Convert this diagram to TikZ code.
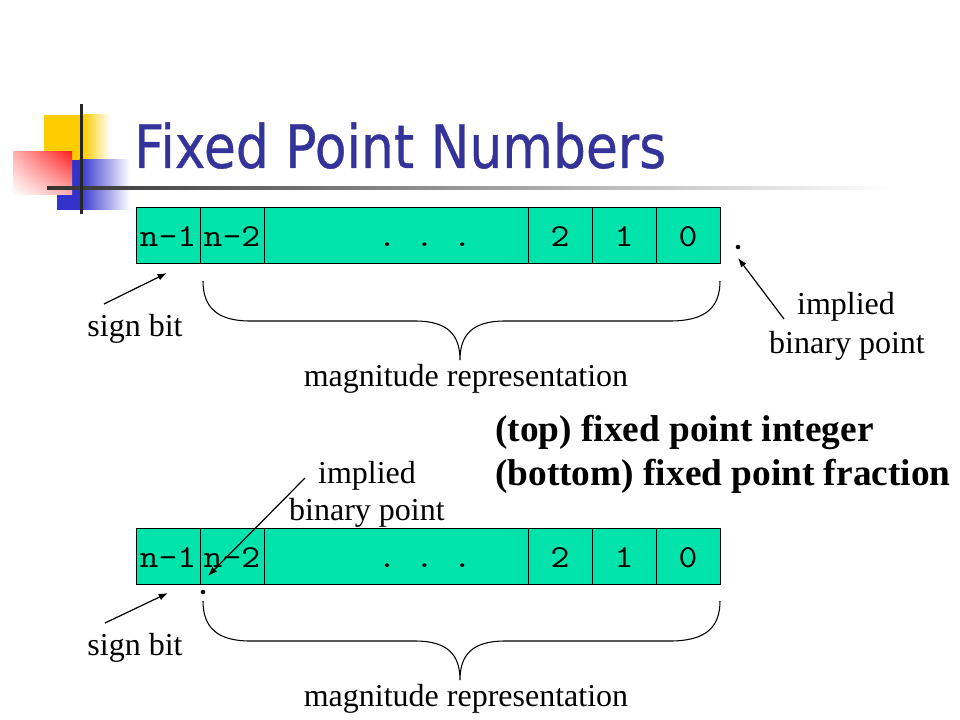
\documentclass[tikz,border=0pt]{standalone}
\usepackage{fontspec}
\usepackage{graphicx}
\setmainfont{Liberation Serif}
\setmonofont[FakeStretch=1.143]{Latin Modern Mono}
\newfontfamily\titlefont[FakeBold=0.6]{DejaVu Sans}
\usetikzlibrary{arrows.meta,shadings}
\definecolor{cellgreen}{RGB}{0,227,170}
\definecolor{titleblue}{RGB}{51,51,153}
\definecolor{logoyellow}{RGB}{255,204,0}
\definecolor{logoblue}{RGB}{51,51,204}
\definecolor{logored}{RGB}{255,32,32}
\begin{document}
\begin{tikzpicture}[x=0.75pt,y=-0.75pt,
  cell/.style={draw=black,line width=0.75pt,fill=cellgreen,inner sep=0pt,outer sep=0pt,
    minimum height=42pt,minimum width=48pt,font=\fontsize{24}{28}\ttfamily,text height=18pt,text depth=1.5pt},
  lbl/.style={font=\fontsize{24}{28}\selectfont,inner sep=0pt,anchor=base},
  note/.style={font=\fontsize{28}{32}\selectfont\bfseries,inner sep=0pt,anchor=base west},
  ptr/.style={draw=black,line width=0.9pt,-{Latex[length=7pt,width=5pt]}},
  brace/.style={draw=black,line width=0.8pt},
  bpt/.style={circle,fill=black,inner sep=0pt,minimum size=3.4pt}]

\useasboundingbox (0,0) rectangle (960,720);

% logo
\fill[logoyellow] (44,115) rectangle (84,160);
\shade[left color=logoyellow,right color=white] (83.5,115) rectangle (110,160);
\fill[logoblue] (57,160) rectangle (80,210);
\shade[left color=logoblue,right color=white] (79.5,160) rectangle (130,210);
\shade[upper left=logored!35,upper right=logored,lower left=white,lower right=logored!35] (13,152) rectangle (72,195);
\shade[left color=black!80,right color=white] (47,186.5) rectangle (890,189.5);
\fill[black!85] (79.5,104) rectangle (82.5,214);

% title
\node[anchor=base west,inner sep=0pt,text=titleblue] (title) at (134,168)
  {\resizebox{399pt}{\height}{\titlefont\fontsize{45}{50}\selectfont Fixed Point Numbers}};

% top register
\node[cell] (a1) at (168,236) {n-1};
\node[cell] (a2) at (232,236) {n-2};
\node[cell,minimum width=198pt] (a3) at (396,236) {\hspace*{43pt}. . .};
\node[cell] (a4) at (560,236) {2};
\node[cell] (a5) at (624,236) {1};
\node[cell] (a6) at (688,236) {0};

% bottom register
\node[cell] (b1) at (168,556) {n-1};
\node[cell] (b2) at (232,556) {n-2};
\node[cell,minimum width=198pt] (b3) at (396,556) {\hspace*{43pt}. . .};
\node[cell] (b4) at (560,556) {2};
\node[cell] (b5) at (624,556) {1};
\node[cell] (b6) at (688,556) {0};

% binary points
\node[bpt] (dotA) at (738,247) {};
\node[bpt] (dotB) at (203,592) {};

% labels
\node[lbl] (signA) at (135,336) {sign bit};
\node[lbl] (magA) at (466,386) {magnitude representation};
\node[lbl] (impA) at (846,315) {implied};
\node[lbl] (binA) at (847,353) {binary point};
\node[lbl] (signB) at (135,655) {sign bit};
\node[lbl] (magB) at (466,706) {magnitude representation};
\node[lbl] (impB) at (367,483) {implied};
\node[lbl] (binB) at (367,520) {binary point};

\node[note] (noteTop) at (495,441) {(top) fixed point integer};
\node[note] (noteBot) at (495,485) {(bottom) fixed point fraction};

% arrows
\coordinate (sA0) at (104,304);
\coordinate (sA1) at (167,273);
\coordinate (sB0) at (105,623);
\coordinate (sB1) at (168,593);
\coordinate (iA0) at (784,319);
\coordinate (iA1) at (738,258);
\coordinate (iB0) at (305,478);
\coordinate (iB1) at (208,576);
\draw[ptr] (sA0) -- (sA1);
\draw[ptr] (sB0) -- (sB1);
\draw[ptr] (iA0) -- (iA1);
\draw[ptr] (iB0) -- (iB1);

% braces
\draw[brace] (203,281) .. controls (203,308) and (218,321) .. (250,321) -- (415,321)
  .. controls (448,321) and (460,335) .. (460,360)
  .. controls (460,335) and (472,321) .. (505,321) -- (670,321)
  .. controls (705,321) and (720,308) .. (720,281);
\draw[brace] (203,601) .. controls (203,628) and (218,641) .. (250,641) -- (415,641)
  .. controls (448,641) and (460,655) .. (460,680)
  .. controls (460,655) and (472,641) .. (505,641) -- (670,641)
  .. controls (705,641) and (720,628) .. (720,601);
\end{tikzpicture}
\end{document}
